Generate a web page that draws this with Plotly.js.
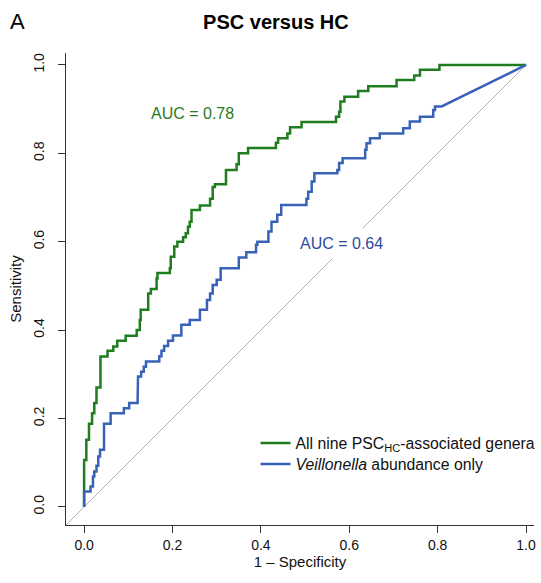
<!DOCTYPE html>
<html>
<head>
<meta charset="utf-8">
<script src="https://cdn.plot.ly/plotly-3.0.1.min.js"></script>
<style>html,body{margin:0;padding:0;background:#fff;}#chart{width:541px;height:583px;}</style>
</head>
<body>
<div id="chart"></div>
<script>
// ROC points: false positive rate (1 - specificity) and sensitivity after each step
const greenFpr = [0, 0.005, 0.011, 0.018, 0.023, 0.028, 0.037, 0.053, 0.066, 0.075, 0.094, 0.119, 0.126, 0.128, 0.145, 0.151, 0.164, 0.166, 0.194, 0.196, 0.204, 0.211, 0.224, 0.230, 0.235, 0.239, 0.243, 0.262, 0.285, 0.291, 0.296, 0.321, 0.345, 0.350, 0.371, 0.434, 0.439, 0.460, 0.466, 0.492, 0.570, 0.577, 0.580, 0.589, 0.620, 0.643, 0.707, 0.747, 0.760, 0.804, 1.0];
const greenTpr = [0.106, 0.152, 0.188, 0.212, 0.235, 0.270, 0.340, 0.353, 0.363, 0.376, 0.387, 0.400, 0.423, 0.446, 0.483, 0.493, 0.517, 0.529, 0.540, 0.566, 0.589, 0.600, 0.610, 0.619, 0.634, 0.645, 0.672, 0.682, 0.697, 0.724, 0.730, 0.762, 0.775, 0.800, 0.812, 0.824, 0.834, 0.845, 0.859, 0.871, 0.883, 0.894, 0.917, 0.928, 0.941, 0.952, 0.966, 0.976, 0.989, 1.0, 1.0];
const blueFpr = [0, 0.0145, 0.020, 0.023, 0.028, 0.032, 0.036, 0.045, 0.060, 0.090, 0.102, 0.121, 0.122, 0.129, 0.135, 0.140, 0.170, 0.175, 0.181, 0.190, 0.201, 0.220, 0.239, 0.262, 0.278, 0.285, 0.291, 0.300, 0.309, 0.350, 0.367, 0.389, 0.392, 0.417, 0.424, 0.437, 0.446, 0.503, 0.507, 0.515, 0.521, 0.573, 0.577, 0.585, 0.636, 0.639, 0.647, 0.669, 0.722, 0.737, 0.760, 0.790, 0.794, 0.809, 1.0];
const blueTpr = [0.035, 0.046, 0.069, 0.080, 0.093, 0.114, 0.129, 0.188, 0.212, 0.223, 0.235, 0.259, 0.295, 0.306, 0.317, 0.329, 0.341, 0.353, 0.364, 0.376, 0.388, 0.412, 0.423, 0.446, 0.468, 0.483, 0.502, 0.514, 0.540, 0.564, 0.576, 0.593, 0.600, 0.623, 0.645, 0.661, 0.683, 0.697, 0.713, 0.736, 0.755, 0.762, 0.778, 0.789, 0.808, 0.823, 0.834, 0.845, 0.857, 0.872, 0.883, 0.898, 0.906, 0.906, 1.0];
const seriesNames = ['All nine PSC<sub>HC</sub>-associated genera', '<i>Veillonella</i> abundance only'];
const aucLabels = ['AUC = 0.78', 'AUC = 0.64'];
const tickVals = [0, 0.2, 0.4, 0.6, 0.8, 1.0];
const tickText = ['0.0', '0.2', '0.4', '0.6', '0.8', '1.0'];

function stairs(f, t, tiedTail) {
  const xs = [0], ys = [0];
  let prev = 0;
  for (let i = 0; i < f.length; i++) {
    if (tiedTail && i === f.length - 1) { xs.push(f[i]); ys.push(t[i]); }
    else { xs.push(f[i], f[i]); ys.push(prev, t[i]); }
    prev = t[i];
  }
  return {x: xs, y: ys};
}

const green = '#1f7d1f', blue = '#3862b8';
const FONT = 'Liberation Sans, Arial, sans-serif';
const g = stairs(greenFpr, greenTpr, false);
const b = stairs(blueFpr, blueTpr, true);

const data = [
  {x: [-0.05, 1.0], y: [-0.05, 1.0], mode: 'lines', line: {color: '#b5b5b5', width: 1}, showlegend: false, hoverinfo: 'skip'},
  {x: g.x, y: g.y, mode: 'lines', name: seriesNames[0], line: {color: green, width: 2.5}, legend: 'legend'},
  {x: b.x, y: b.y, mode: 'lines', name: seriesNames[1], line: {color: blue, width: 2.5}, legend: 'legend2'}
];

const axisCommon = {
  showgrid: false, zeroline: false, showline: true, linecolor: '#333', linewidth: 1,
  ticks: 'outside', ticklen: 7, tickcolor: '#333', tickwidth: 1, automargin: false,
  tickvals: tickVals, ticktext: tickText,
  tickfont: {family: FONT, size: 14, color: '#111'}
};

const legendCommon = {xanchor: 'left', yanchor: 'top', bgcolor: 'rgba(0,0,0,0)',
                      font: {family: FONT, size: 15.8, color: '#111'}};

const layout = {
  width: 541, height: 583,
  margin: {l: 66, r: 7, t: 53, b: 58, autoexpand: false},
  paper_bgcolor: '#fff', plot_bgcolor: '#fff',
  font: {family: FONT, color: '#111'},
  title: {text: '<b>PSC versus HC</b>', font: {family: FONT, size: 20, color: '#000'},
          xref: 'container', x: 0.51, xanchor: 'center', yref: 'container', y: 0.962, yanchor: 'middle'},
  xaxis: Object.assign({}, axisCommon, {range: [-0.041, 1.018],
    title: {text: '1 \u2013 Specificity', font: {family: FONT, size: 15, color: '#111'}, standoff: 4}}),
  yaxis: Object.assign({}, axisCommon, {range: [-0.041, 1.027], tickangle: -90, ticklabelstandoff: 8,
    title: {text: 'Sensitivity', font: {family: FONT, size: 15, color: '#111'}, standoff: 6}}),
  legend: Object.assign({}, legendCommon, {x: 0.405, y: 0.2093}),
  legend2: Object.assign({}, legendCommon, {x: 0.405, y: 0.1648}),
  annotations: [
    {text: 'A', xref: 'paper', yref: 'paper', x: -0.1026, y: 1.0657, xanchor: 'center', yanchor: 'middle',
     showarrow: false, font: {family: FONT, size: 22, color: '#000'}},
    {text: aucLabels[0], xref: 'x', yref: 'y', x: 0.245, y: 0.891, xanchor: 'center', yanchor: 'middle',
     showarrow: false, font: {family: FONT, size: 16, color: '#2a7a22'}},
    {text: aucLabels[1], xref: 'x', yref: 'y', x: 0.582, y: 0.595, xanchor: 'center', yanchor: 'middle',
     showarrow: false, bgcolor: '#fff', borderpad: 6, font: {family: FONT, size: 16, color: '#2b4c9e'}}
  ]
};

Plotly.newPlot('chart', data, layout, {displayModeBar: false, staticPlot: true});
</script>
</body>
</html>
